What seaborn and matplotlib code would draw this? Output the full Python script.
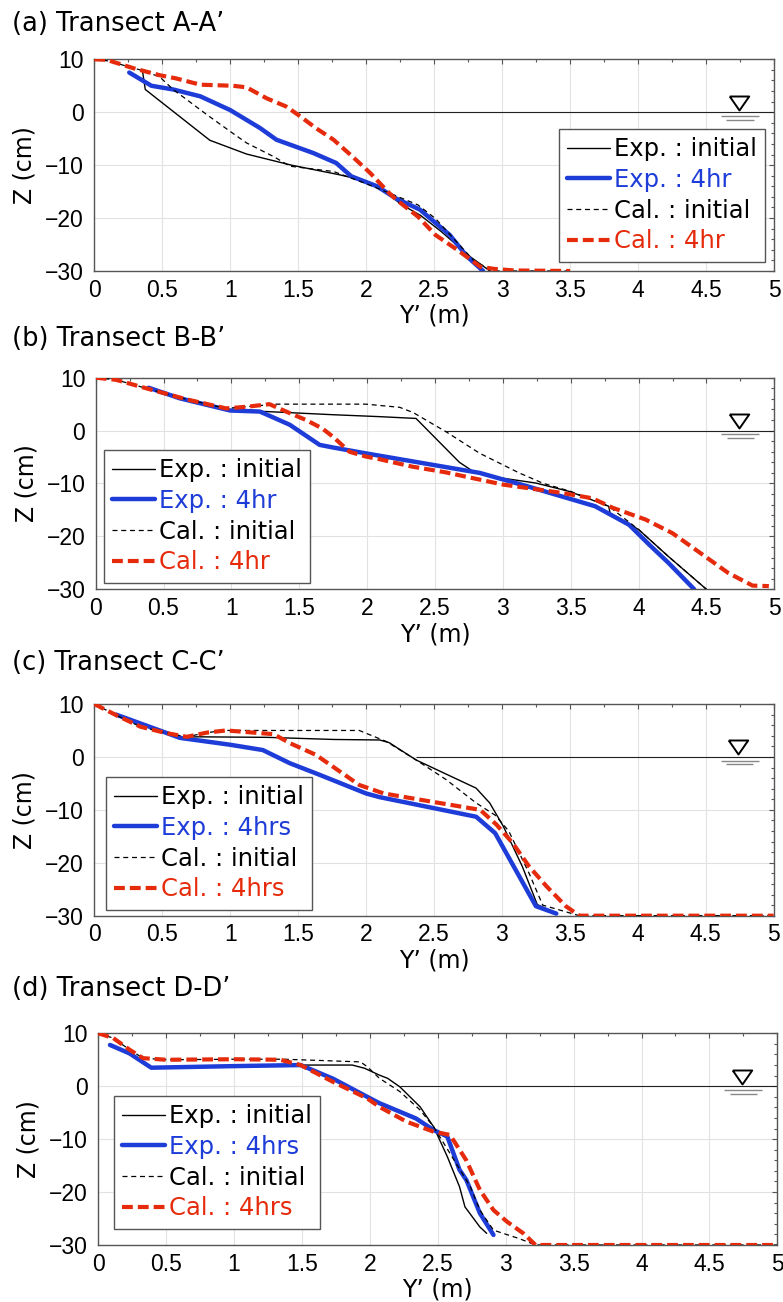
import numpy as np
import pandas as pd
import matplotlib
matplotlib.use("Agg")
import matplotlib.pyplot as plt
import seaborn as sns
from matplotlib.ticker import MultipleLocator, FuncFormatter

# ---------------- data (Y' in m, Z in cm) ----------------
# Panel (a) Transect A-A'
a_exp_init_x = [0.355, 0.375, 0.85, 1.12, 1.45, 1.8, 2.0, 2.1, 2.25, 2.4, 2.55, 2.76, 2.91]
a_exp_init_z = [7.7, 4.3, -5.3, -7.9, -10.0, -11.8, -13.0, -14.0, -17.3, -19.5, -22.5, -27.2, -30.0]
a_exp_4hr_x = [0.257, 0.42, 0.58, 0.78, 1.0, 1.22, 1.34, 1.61, 1.78, 1.89, 2.08, 2.22, 2.395, 2.615, 2.74, 2.86]
a_exp_4hr_z = [7.5, 5.0, 4.3, 3.0, 0.4, -3.0, -5.2, -7.7, -9.6, -12.1, -14.0, -16.3, -18.4, -23.2, -27.2, -30.0]
a_cal_init_x = [0.0, 0.1, 0.35, 0.48, 0.58, 0.83, 1.02, 1.12, 1.32, 1.44, 1.76, 2.0, 2.2, 2.38, 2.51, 2.79, 2.93, 3.5]
a_cal_init_z = [10.0, 9.7, 7.9, 6.7, 4.3, -0.5, -4.0, -5.8, -8.4, -10.2, -11.2, -13.5, -15.6, -17.5, -20.1, -28.0, -30.0, -30.0]
a_cal_4hr_x = [0.0, 0.09, 0.29, 0.48, 0.6, 0.78, 1.02, 1.12, 1.27, 1.41, 1.5, 1.63, 1.76, 1.9, 2.03, 2.17,
               2.22, 2.38, 2.51, 2.67, 2.84, 2.94, 3.09, 3.5]
a_cal_4hr_z = [10.0, 9.9, 8.3, 7.0, 6.4, 5.2, 5.0, 4.7, 2.6, 1.1, -0.5, -3.0, -5.2, -8.4, -11.5, -15.3,
               -16.5, -19.7, -23.2, -26.0, -29.2, -29.6, -29.9, -30.0]

# Panel (b) Transect B-B'
b_exp_init_x = [0.4, 1.0, 1.26, 1.75, 2.09, 2.36, 2.68, 2.78, 2.92, 3.24, 3.49, 3.78, 3.79, 4.0, 4.22, 4.5]
b_exp_init_z = [7.8, 3.8, 3.6, 3.0, 2.64, 2.3, -6.0, -7.7, -8.7, -9.9, -11.5, -14.3, -15.6, -18.7, -23.8, -30.0]
b_exp_4hr_x = [0.39, 0.62, 0.99, 1.21, 1.43, 1.65, 1.75, 1.99, 2.24, 2.83, 3.19, 3.68, 3.93, 4.08, 4.22, 4.41]
b_exp_4hr_z = [8.1, 6.1, 3.8, 3.6, 1.1, -2.7, -3.2, -4.3, -5.4, -8.0, -10.6, -14.3, -17.8, -21.6, -25.0, -30.0]
b_cal_init_x = [0.0, 0.15, 0.4, 0.67, 0.96, 1.1, 1.33, 1.99, 2.24, 2.34, 2.58, 2.83, 3.12, 3.3, 3.5, 3.78, 4.0, 4.22, 4.5]
b_cal_init_z = [10.0, 9.6, 7.8, 5.9, 4.2, 4.5, 5.0, 5.0, 4.4, 3.4, -0.2, -4.3, -8.0, -10.0, -11.5, -14.3, -18.7, -23.8, -30.0]
b_cal_4hr_x = [0.0, 0.15, 0.4, 0.67, 0.96, 1.11, 1.28, 1.43, 1.55, 1.67, 1.75, 1.87, 1.99, 2.09, 2.33, 2.58,
               3.0, 3.44, 3.66, 3.81, 4.05, 4.25, 4.42, 4.66, 4.84, 4.96]
b_cal_4hr_z = [10.0, 9.6, 7.8, 5.9, 4.2, 4.5, 5.0, 3.3, 2.0, 0.4, -1.2, -4.0, -4.9, -5.4, -6.8, -7.9,
               -10.2, -11.8, -12.8, -14.6, -16.8, -19.4, -22.5, -26.9, -29.3, -29.4]

# Panel (c) Transect C-C'
c_exp_init_x = [0.16, 0.46, 0.63, 0.75, 1.27, 1.76, 2.1, 2.17, 2.37, 2.81, 2.91, 3.01, 3.15, 3.26, 3.4]
c_exp_init_z = [8.0, 5.2, 3.6, 3.8, 3.7, 3.3, 3.2, 2.7, -0.6, -5.9, -8.7, -13.1, -20.7, -27.9, -29.5]
c_exp_4hr_x = [0.16, 0.46, 0.63, 1.0, 1.24, 1.44, 1.66, 2.0, 2.1, 2.81, 2.95, 3.25, 3.4]
c_exp_4hr_z = [8.0, 5.2, 3.6, 2.3, 1.3, -1.2, -3.4, -6.9, -7.6, -11.3, -14.4, -28.2, -29.6]
c_cal_init_x = [0.0, 0.16, 0.34, 0.53, 0.68, 0.83, 0.97, 1.37, 1.95, 2.15, 2.37, 2.59, 2.81, 2.95, 3.05, 3.2, 3.3, 3.57, 5.0]
c_cal_init_z = [10.0, 7.9, 5.7, 4.5, 3.8, 4.6, 5.0, 5.0, 5.0, 2.9, -0.6, -4.3, -8.7, -11.0, -14.0, -22.0, -28.0, -30.0, -30.0]
c_cal_4hr_x = [0.0, 0.16, 0.34, 0.53, 0.68, 0.83, 0.97, 1.32, 1.44, 1.63, 1.81, 1.95, 2.13, 2.47, 2.84,
               2.96, 3.08, 3.2, 3.33, 3.47, 3.57, 5.0]
c_cal_4hr_z = [10.0, 7.9, 5.7, 4.5, 3.8, 4.6, 5.0, 4.3, 2.6, 0.4, -2.8, -5.3, -6.9, -8.4, -10.0,
               -12.8, -16.3, -20.7, -24.5, -28.2, -30.0, -30.0]

# Panel (d) Transect D-D'
d_exp_init_x = [0.086, 0.23, 0.39, 1.0, 1.49, 1.87, 1.96, 2.07, 2.13, 2.22, 2.37, 2.47, 2.57, 2.66, 2.70, 2.81, 2.86]
d_exp_init_z = [7.8, 6.2, 3.5, 3.8, 4.0, 4.0, 3.4, 2.1, 1.5, -0.1, -3.9, -7.7, -13.3, -19.0, -22.8, -26.6, -27.8]
d_exp_4hr_x = [0.086, 0.23, 0.39, 1.0, 1.49, 1.73, 1.98, 2.07, 2.34, 2.47, 2.57, 2.66, 2.71, 2.81, 2.91]
d_exp_4hr_z = [7.8, 6.2, 3.5, 3.8, 4.0, 1.4, -2.0, -3.2, -6.1, -8.3, -9.5, -15.8, -17.7, -24.0, -28.1]
d_cal_init_x = [0.0, 0.11, 0.23, 0.33, 0.5, 1.0, 1.37, 1.93, 1.98, 2.07, 2.22, 2.37, 2.47, 2.59, 2.74, 2.81,
                2.91, 3.1, 3.22, 5.0]
d_cal_init_z = [10.0, 9.1, 6.9, 5.3, 5.0, 5.1, 5.1, 4.6, 3.7, 1.5, -1.0, -4.5, -7.7, -12.7, -19.0, -23.4,
                -27.2, -28.8, -30.0, -30.0]
d_cal_4hr_x = [0.0, 0.11, 0.23, 0.33, 0.5, 1.0, 1.34, 1.49, 1.73, 1.98, 2.07, 2.27, 2.47, 2.59, 2.71, 2.81,
               2.91, 3.01, 3.13, 3.22, 5.0]
d_cal_4hr_z = [10.0, 9.1, 6.9, 5.3, 5.0, 5.1, 5.0, 4.0, 0.8, -2.3, -3.9, -6.7, -8.6, -9.2, -14.0, -19.6,
               -23.4, -25.6, -27.8, -30.0, -30.0]

titles = ["(a) Transect A-A\u2019", "(b) Transect B-B\u2019", "(c) Transect C-C\u2019", "(d) Transect D-D\u2019"]
time_labels = ["4hr", "4hr", "4hrs", "4hrs"]
water_start = [1.5, 2.57, 2.37, 2.22]   # where the still-water line begins (m)
X_LABEL = "Y\u2019 (m)"
Y_LABEL = "Z (cm)"
XLIM = (0, 5)
YLIM = (-30, 10)
WATER_SYMBOL_X = 4.74
WATER_SYMBOL_Z = 1.8

BLUE = "#1e3cd8"
RED = "#e52b0c"

# ---------------- layout (pixels) ----------------
W, H = 783, 1302
axes_boxes = [  # left, right, top, bottom
    (94.3, 774.0, 59.3, 271.0),
    (95.7, 774.3, 377.7, 589.3),
    (94.3, 773.7, 704.0, 915.7),
    (98.3, 777.3, 1033.3, 1245.0),
]
title_y = [24, 339, 663, 989]
legend_specs = [
    ("lower right", (0.9868, 0.0425)),
    ("lower left", (0.0122, 0.0298)),
    ("lower left", (0.0172, 0.0269)),
    ("lower left", (0.0231, 0.0756)),
]

sns.set_theme(style="white")
plt.rcParams["font.family"] = ["DejaVu Sans"]
plt.rcParams["axes.unicode_minus"] = True

fig = plt.figure(figsize=(W / 100, H / 100), dpi=100)

data = [
    (a_exp_init_x, a_exp_init_z, a_exp_4hr_x, a_exp_4hr_z, a_cal_init_x, a_cal_init_z, a_cal_4hr_x, a_cal_4hr_z),
    (b_exp_init_x, b_exp_init_z, b_exp_4hr_x, b_exp_4hr_z, b_cal_init_x, b_cal_init_z, b_cal_4hr_x, b_cal_4hr_z),
    (c_exp_init_x, c_exp_init_z, c_exp_4hr_x, c_exp_4hr_z, c_cal_init_x, c_cal_init_z, c_cal_4hr_x, c_cal_4hr_z),
    (d_exp_init_x, d_exp_init_z, d_exp_4hr_x, d_exp_4hr_z, d_cal_init_x, d_cal_init_z, d_cal_4hr_x, d_cal_4hr_z),
]

tri = [(-1.0, 0.72), (1.0, 0.72), (0.0, -0.72), (-1.0, 0.72)]

for i, (box, d) in enumerate(zip(axes_boxes, data)):
    l, r, t, b = box
    ax = fig.add_axes([l / W, 1 - b / H, (r - l) / W, (b - t) / H])
    ex0x, ex0z, ex4x, ex4z, ca0x, ca0z, ca4x, ca4z = d
    tl = time_labels[i]

    ax.grid(True, which="major", color="#e2e2e2", lw=0.8)
    ax.set_axisbelow(True)

    # still water line and symbol
    ax.hlines(0, water_start[i], XLIM[1], color="#222222", lw=0.8, zorder=2)
    ax.plot([WATER_SYMBOL_X], [WATER_SYMBOL_Z], marker=tri, ms=14, mfc="white", mec="black",
            mew=1.4, ls="none", zorder=3)
    ax.hlines(-0.7, WATER_SYMBOL_X - 0.13, WATER_SYMBOL_X + 0.15, color="#888888", lw=1.0, zorder=3)
    ax.hlines(-1.4, WATER_SYMBOL_X - 0.09, WATER_SYMBOL_X + 0.11, color="#888888", lw=1.0, zorder=3)

    sns.lineplot(x=ex0x, y=ex0z, ax=ax, sort=False, estimator=None, color="black", lw=1.0,
                 label="Exp. : initial", zorder=4)
    sns.lineplot(x=ex4x, y=ex4z, ax=ax, sort=False, estimator=None, color=BLUE, lw=3.2,
                 label="Exp. : " + tl, zorder=5)
    sns.lineplot(x=ca0x, y=ca0z, ax=ax, sort=False, estimator=None, color="black", lw=0.9,
                 linestyle=(0, (4, 3)), label="Cal. : initial", zorder=6)
    sns.lineplot(x=ca4x, y=ca4z, ax=ax, sort=False, estimator=None, color=RED, lw=3.0,
                 linestyle=(0, (2.6, 1.2)), label="Cal. : " + tl, zorder=7)

    ax.set_xlim(*XLIM)
    ax.set_ylim(*YLIM)
    ax.xaxis.set_major_locator(MultipleLocator(0.5))
    ax.xaxis.set_minor_locator(MultipleLocator(0.25))
    ax.yaxis.set_major_locator(MultipleLocator(10))
    ax.yaxis.set_minor_locator(MultipleLocator(2))
    ax.xaxis.set_major_formatter(FuncFormatter(lambda v, p: f"{v:g}"))
    ax.yaxis.set_major_formatter(FuncFormatter(lambda v, p: f"{v:g}".replace("-", "\u2212")))
    ax.tick_params(which="both", direction="in", top=True, right=True, color="#555555")
    ax.tick_params(which="major", length=3.5, width=0.8)
    ax.tick_params(which="minor", length=2.5, width=0.8)
    ax.tick_params(axis="x", which="major", pad=5.5)
    ax.tick_params(axis="y", which="major", pad=7.5)
    for lab in ax.get_xticklabels() + ax.get_yticklabels():
        lab.set_fontfamily("Liberation Sans")
        lab.set_fontsize(16.5)
        lab.set_color("black")
    for sp in ax.spines.values():
        sp.set_color("#555555")
        sp.set_linewidth(1.0)

    ax.set_xlabel(X_LABEL, fontsize=17, color="black")
    ax.set_ylabel(Y_LABEL, fontsize=17, color="black")
    ax.xaxis.set_label_coords(0.5, -0.155)
    ax.yaxis.set_label_coords(-0.085, 0.5)

    loc, anchor = legend_specs[i]
    leg = ax.legend(loc=loc, bbox_to_anchor=anchor, borderaxespad=0, fontsize=17.5,
                    labelcolor=["black", BLUE, "black", RED], frameon=True, fancybox=False,
                    edgecolor="#555555", framealpha=1, handlelength=1.75, handletextpad=0.15,
                    labelspacing=0.28, borderpad=0.35)
    leg.get_frame().set_linewidth(1.0)
    leg.set_zorder(10)

    fig.text(12 / W, 1 - title_y[i] / H, titles[i], fontsize=18.5, va="center", ha="left", color="black")

fig.savefig("out.png", dpi=100)
